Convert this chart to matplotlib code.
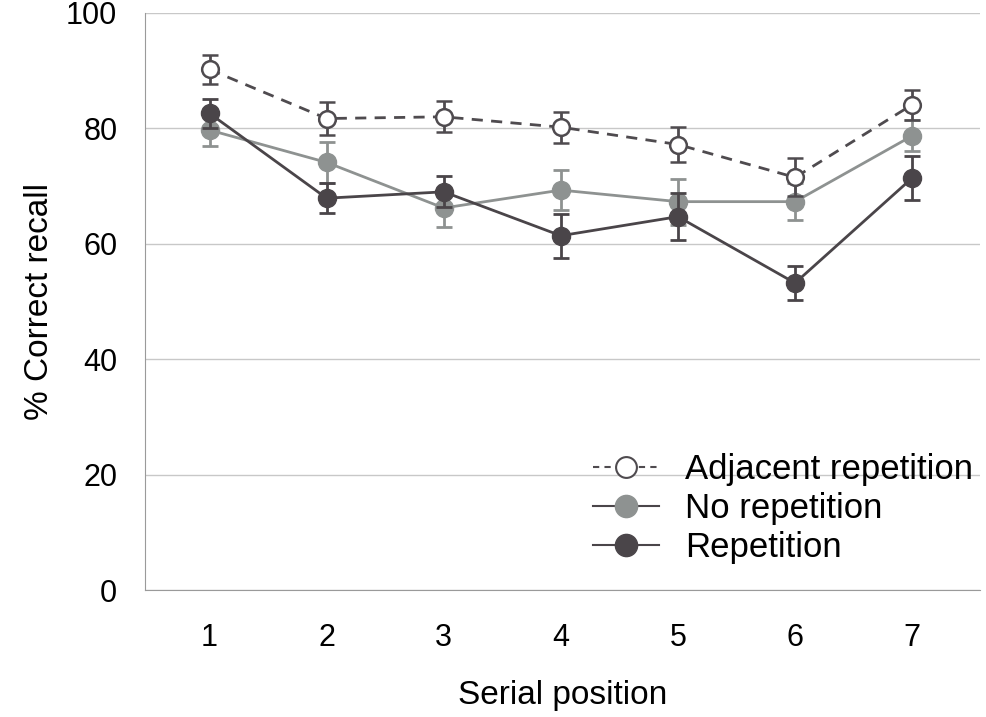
import numpy as np
import matplotlib
matplotlib.use('Agg')
import matplotlib.pyplot as plt
from matplotlib.lines import Line2D

plt.rcParams['font.family'] = ['Liberation Sans', 'DejaVu Sans']

positions = [1, 2, 3, 4, 5, 6, 7]

adjacent = [90.2, 81.7, 82.0, 80.2, 77.2, 71.5, 84.1]
adjacent_err = [2.5, 2.8, 2.7, 2.7, 3.1, 3.3, 2.6]

no_rep = [79.7, 74.1, 66.2, 69.3, 67.3, 67.3, 78.7]
no_rep_err = [2.8, 3.6, 3.3, 3.5, 4.0, 3.2, 2.7]

rep = [82.6, 67.9, 69.0, 61.4, 64.7, 53.2, 71.4]
rep_err = [2.5, 2.6, 2.7, 3.8, 4.1, 3.0, 3.8]

c_adj = '#4f4b4f'
c_norep = '#8e9291'
c_rep = '#4a4549'

fig = plt.figure(figsize=(9.87, 7.17), dpi=100)
ax = fig.add_axes([0.147, 0.177, 0.846, 0.805])

ax.errorbar(positions, no_rep, yerr=no_rep_err, color=c_norep, lw=2, marker='o', ms=13,
            mfc=c_norep, mec=c_norep, ecolor=c_norep, elinewidth=2, capsize=6, capthick=2,
            zorder=3)
ax.errorbar(positions, rep, yerr=rep_err, color=c_rep, lw=2, marker='o', ms=13,
            mfc=c_rep, mec=c_rep, ecolor=c_rep, elinewidth=2, capsize=6, capthick=2,
            zorder=4)
ax.errorbar(positions, adjacent, yerr=adjacent_err, color=c_adj, lw=2, ls=(0, (4, 3)), marker='o', ms=12,
            mfc='white', mec=c_adj, mew=1.8, ecolor=c_adj, elinewidth=2, capsize=6, capthick=2,
            zorder=5)

ax.set_xlim(0.45, 7.58)
ax.set_ylim(0, 100)
ax.set_yticks([0, 20, 40, 60, 80, 100])
ax.set_xticks(positions)
ax.tick_params(length=0, labelsize=22)
ax.tick_params(axis='y', pad=20)
ax.tick_params(axis='x', pad=24)
ax.grid(axis='y', color='#c8c8c8', lw=1)
ax.set_axisbelow(True)
for s in ['top', 'right']:
    ax.spines[s].set_visible(False)
ax.spines['left'].set_color('#9a9a9a')
ax.spines['bottom'].set_color('#9a9a9a')

ax.set_xlabel('Serial position', fontsize=24, labelpad=19)
ax.set_ylabel('% Correct recall', fontsize=24, labelpad=8)

handles = [
    Line2D([], [], color=c_adj, lw=1.5, ls=(0, (3, 2.5)), marker='o', ms=15, mfc='white', mec=c_adj, mew=1.5),
    Line2D([], [], color=c_rep, lw=1.5, marker='o', ms=16, mfc=c_norep, mec=c_norep),
    Line2D([], [], color=c_rep, lw=1.5, marker='o', ms=16, mfc=c_rep, mec=c_rep),
]
labels = ['Adjacent repetition', 'No repetition', 'Repetition']
ax.legend(handles, labels, loc='upper left', bbox_to_anchor=(0.537, 0.237), frameon=False,
          fontsize=25, handlelength=1.9, labelspacing=0.17, handletextpad=0.75, borderpad=0,
          borderaxespad=0)

fig.savefig('out.png', dpi=100)
